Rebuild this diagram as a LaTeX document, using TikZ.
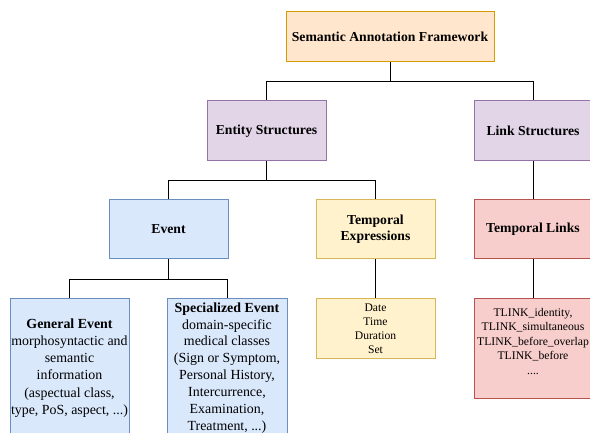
\documentclass[tikz,border=0pt]{standalone}
\usepackage{fontspec}
\setmainfont{Liberation Serif}
\definecolor{orF}{HTML}{FFE6CC}\definecolor{orD}{HTML}{D79B00}
\definecolor{puF}{HTML}{E1D5E7}\definecolor{puD}{HTML}{9673A6}
\definecolor{blF}{HTML}{DAE8FC}\definecolor{blD}{HTML}{6C8EBF}
\definecolor{yeF}{HTML}{FFF2CC}\definecolor{yeD}{HTML}{D6B656}
\definecolor{reF}{HTML}{F8CECC}\definecolor{reD}{HTML}{B85450}
\tikzset{
  box/.style={rectangle, line width=1pt, inner sep=0pt, align=center, font=\fontsize{13.7}{16.2}\selectfont},
  orbox/.style={box, fill=orF, draw=orD},
  pubox/.style={box, fill=puF, draw=puD},
  blbox/.style={box, fill=blF, draw=blD},
  yebox/.style={box, fill=yeF, draw=yeD},
  rebox/.style={box, fill=reF, draw=reD},
  conn/.style={line width=1pt, draw=black}
}
\begin{document}
\begin{tikzpicture}[x=1pt,y=-1pt]
\useasboundingbox (0,0) rectangle (590,433);
\clip (0,0) rectangle (590,433);
\node[orbox, minimum width=208pt, minimum height=50pt] (top) at (390,37) {\textbf{Semantic Annotation Framework}};
\node[pubox, minimum width=119pt, minimum height=60pt] (entity) at (266.5,131) {\textbf{Entity Structures}};
\node[pubox, minimum width=118pt, minimum height=60pt] (link) at (533,131) {\textbf{Link Structures}};
\node[blbox, minimum width=119pt, minimum height=59pt] (event) at (168.5,229.5) {\textbf{Event}};
\node[yebox, minimum width=119pt, minimum height=59pt] (texpr) at (375.5,229.5) {\textbf{Temporal}\\\textbf{Expressions}};
\node[rebox, minimum width=118pt, minimum height=59pt] (tlinks) at (533,229.5) {\textbf{Temporal Links}};
\node[yebox, minimum width=119pt, minimum height=59pt, font=\fontsize{11.6}{14}\selectfont] (date) at (375.5,328.5) {Date\\Time\\Duration\\Set};
\node[rebox, minimum width=118pt, minimum height=99pt, font=\fontsize{11.7}{14.5}\selectfont] (tlink) at (533,348.5) {TLINK\_identity,\\TLINK\_simultaneous\\TLINK\_before\_overlap\\TLINK\_before\\....\\\mbox{}};
\node[blbox, minimum width=119pt, minimum height=138pt, font=\fontsize{13.9}{17.3}\selectfont] (general) at (69.5,368) {\textbf{General Event}\\morphosyntactic and\\semantic\\information\\(aspectual class,\\type, PoS, aspect, ...)};
\node[blbox, minimum width=120pt, minimum height=138pt, font=\fontsize{13.9}{16.9}\selectfont] (special) at (227,368) {\textbf{Specialized Event}\\domain-specific\\medical classes\\(Sign or Symptom,\\Personal History,\\Intercurrence,\\Examination,\\Treatment, ...)};
\draw[conn] (top.south) -- ++(0,19) -| (entity.north);
\draw[conn] (top.south) -- ++(0,19) -| (link.north);
\draw[conn] (entity.south) -- ++(0,19) -| (event.north);
\draw[conn] (entity.south) -- ++(0,19) -| (texpr.north);
\draw[conn] (link.south) -- (tlinks.north);
\draw[conn] (event.south) -- ++(0,20) -| (general.north);
\draw[conn] (event.south) -- ++(0,20) -| (special.north);
\draw[conn] (texpr.south) -- (date.north);
\draw[conn] (tlinks.south) -- (tlink.north);
\end{tikzpicture}
\end{document}
